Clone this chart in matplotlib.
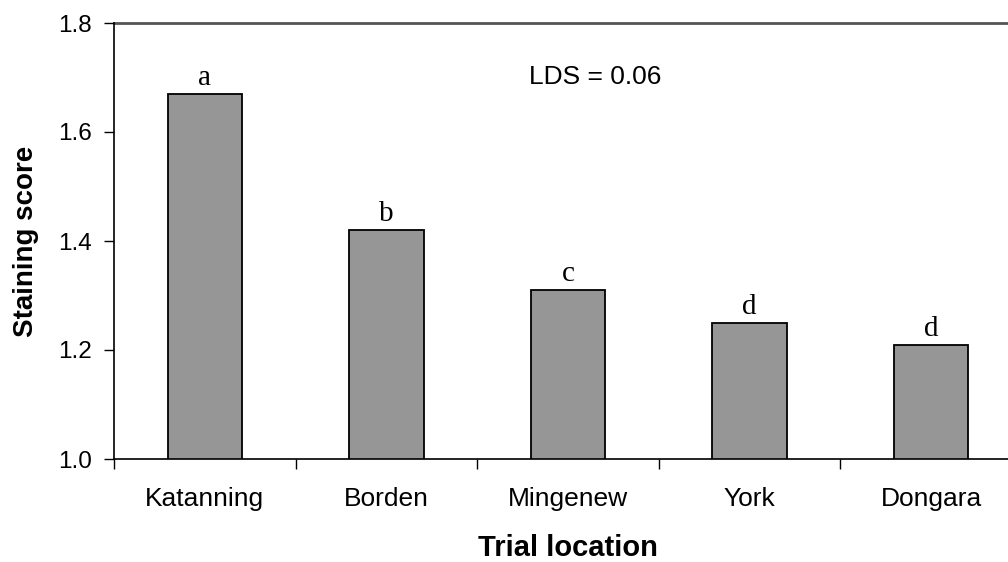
"""Staining score by trial location"""

import matplotlib
matplotlib.use("Agg")
import matplotlib.pyplot as plt

plt.rcParams["font.family"] = ["Liberation Sans", "DejaVu Sans"]

# ── data ───────────────────────────────────────────
locations = ["Katanning", "Borden", "Mingenew", "York", "Dongara"]
scores = [1.67, 1.42, 1.31, 1.25, 1.21]
groups = ["a", "b", "c", "d", "d"]
lds_text = "LDS = 0.06"

BAR_COLOR = "#969696"

W, H = 1008, 562
fig = plt.figure(figsize=(W / 100, H / 100), dpi=100)

# plot area: left edge at 114 px, runs slightly past the right border
x0, x1 = 114, 1022
y_top, y_bot = 23, 459
ax = fig.add_axes([x0 / W, 1 - y_bot / H, (x1 - x0) / W, (y_bot - y_top) / H])

pos = list(range(len(locations)))
ax.bar(pos, scores, width=0.41, color=BAR_COLOR, edgecolor="black",
       linewidth=1.3, zorder=2)

for x, v, g in zip(pos, scores, groups):
    ax.annotate(g, (x, v), xytext=(0, 6.5), textcoords="offset points",
                ha="center", va="baseline", fontsize=21,
                family=["Liberation Serif", "DejaVu Serif"])

ax.set_xlim(-0.5, len(locations) - 0.5)
ax.set_ylim(1.0, 1.8)
ax.set_yticks([1.0, 1.2, 1.4, 1.6, 1.8])
ax.set_yticklabels([f"{t:.1f}" for t in ax.get_yticks()], fontsize=17.5)

# category boundaries carry the ticks, labels sit in between
ax.set_xticks([p - 0.5 for p in pos] + [len(locations) - 0.5])
ax.set_xticklabels([])
ax.set_xticks(pos, minor=True)
ax.set_xticklabels(locations, minor=True, fontsize=19)
ax.tick_params(axis="x", which="minor", length=0, pad=20)
ax.tick_params(axis="x", which="major", direction="out", length=7, width=1)
ax.tick_params(axis="y", direction="out", length=7, width=1, pad=9)

for side in ("top", "right"):
    ax.spines[side].set_visible(False)
ax.spines["left"].set_linewidth(1.2)
ax.spines["bottom"].set_linewidth(1.2)

# line along the top of the value range
ax.axhline(1.8, color="#555555", linewidth=2, clip_on=False, zorder=1)

ax.text(2.15, 1.70, lds_text, ha="center", va="center", fontsize=19)

fig.text(26 / W, 1 - 241 / H, "Staining score", rotation=90, ha="center",
         va="center", fontsize=20, fontweight="bold")
fig.text(568 / W, 1 - 548 / H, "Trial location", ha="center", va="center",
         fontsize=21, fontweight="bold")

fig.savefig("out.png", dpi=100)
plt.close(fig)
